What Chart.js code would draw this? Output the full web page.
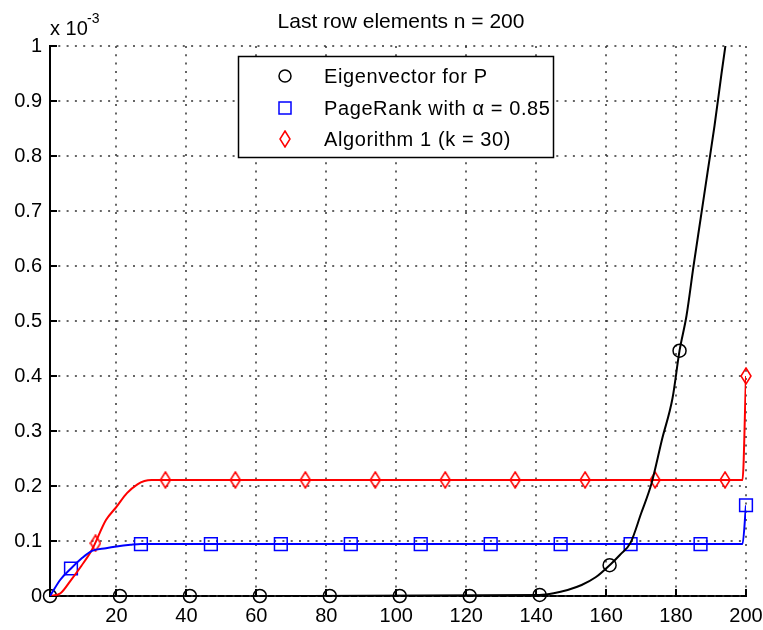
<!DOCTYPE html>
<html>
<head>
<meta charset="utf-8">
<script src="https://cdn.jsdelivr.net/npm/chart.js@4.4.0/dist/chart.umd.min.js"></script>
<style>
  html, body { margin: 0; padding: 0; background: #fff; }
</style>
</head>
<body>
<canvas id="chart" width="763" height="630"></canvas>
<script>
// axis ticks
const xTicks = [20, 40, 60, 80, 100, 120, 140, 160, 180, 200];
const yTicks = [0, 0.1, 0.2, 0.3, 0.4, 0.5, 0.6, 0.7, 0.8, 0.9, 1];
const yLabels = ['0', '0.1', '0.2', '0.3', '0.4', '0.5', '0.6', '0.7', '0.8', '0.9', '1'];

// Eigenvector for P (black)
const eigLineX = [67, 141, 145, 149, 153, 157, 161, 164, 167, 170, 173, 176, 179, 181, 183, 185, 187, 189, 191, 193, 195, 197];
const eigLineY = [0, 0.002, 0.005, 0.011, 0.02, 0.034, 0.056, 0.075, 0.097, 0.15, 0.205, 0.285, 0.36, 0.446, 0.51, 0.6, 0.685, 0.77, 0.855, 0.95, 1.04, 1.13];
const eigMarkX = [1, 21, 41, 61, 81, 101, 121, 141, 161, 181];
const eigMarkY = [0, 0, 0, 0, 0, 0, 0, 0.002, 0.056, 0.446];

// PageRank with alpha = 0.85 (blue)
const prLineX = [1, 4, 7, 10, 13, 17, 20, 24, 27, 199, 200];
const prLineY = [0, 0.03, 0.05, 0.068, 0.082, 0.087, 0.09, 0.093, 0.0945, 0.0945, 0.165];
const prMarkX = [7, 27, 47, 67, 87, 107, 127, 147, 167, 187, 200];
const prMarkY = [0.05, 0.0945, 0.0945, 0.0945, 0.0945, 0.0945, 0.0945, 0.0945, 0.0945, 0.0945, 0.165];

// Algorithm 1 (k = 30) (red)
const algLineX = [1, 4, 7, 10, 13, 17, 20, 23, 26, 28, 30, 199, 200];
const algLineY = [0, 0.005, 0.029, 0.055, 0.084, 0.138, 0.162, 0.187, 0.203, 0.209, 0.211, 0.211, 0.4];
const algMarkX = [14, 34, 54, 74, 94, 114, 134, 154, 174, 194, 200];
const algMarkY = [0.096, 0.211, 0.211, 0.211, 0.211, 0.211, 0.211, 0.211, 0.211, 0.211, 0.4];

const legendLabels = ['Eigenvector for P', 'PageRank with \u03b1 = 0.85', 'Algorithm 1 (k = 30)'];
const titleText = 'Last row elements n = 200';

const FONT = "'Liberation Sans', Arial, sans-serif";
const toPts = (xs, ys) => xs.map((x, i) => ({ x: x, y: ys[i] }));

// tall thin diamond like matlab's 'd' marker
const makeDiamond = (w, h, color) => {
  const c = document.createElement('canvas');
  c.width = w; c.height = h;
  const g = c.getContext('2d');
  g.strokeStyle = color;
  g.lineWidth = 1.5;
  g.beginPath();
  g.moveTo(w / 2, 1);
  g.lineTo(w - 1, h / 2);
  g.lineTo(w / 2, h - 1);
  g.lineTo(1, h / 2);
  g.closePath();
  g.stroke();
  return c;
};
const diamond = makeDiamond(12, 18, '#ff0000');

const lineSet = (data, color, width) => ({
  data: data, showLine: true, borderColor: color, borderWidth: width,
  pointRadius: 0, fill: false, cubicInterpolationMode: 'monotone'
});
const markSet = (data, color, style, r) => ({
  data: data, showLine: false, borderColor: color, backgroundColor: 'rgba(0,0,0,0)',
  pointStyle: style, pointRadius: r, pointBorderWidth: 1.5, clip: false
});

// dotted grid + inward ticks
const gridPlugin = {
  id: 'matGrid',
  beforeDatasetsDraw(chart) {
    const { ctx, chartArea: a, scales: { x, y } } = chart;
    ctx.save();
    ctx.strokeStyle = '#333';
    ctx.lineWidth = 1.5;
    ctx.setLineDash([2, 6.3]);
    xTicks.forEach(v => {
      const px = Math.round(x.getPixelForValue(v));
      ctx.beginPath(); ctx.moveTo(px, a.top); ctx.lineTo(px, a.bottom); ctx.stroke();
    });
    yTicks.forEach(v => {
      const py = Math.round(y.getPixelForValue(v));
      ctx.beginPath(); ctx.moveTo(a.left, py); ctx.lineTo(a.right, py); ctx.stroke();
    });
    ctx.setLineDash([]);
    ctx.strokeStyle = '#000';
    ctx.lineWidth = 2;
    xTicks.forEach(v => {
      const px = Math.round(x.getPixelForValue(v));
      ctx.beginPath(); ctx.moveTo(px, a.bottom); ctx.lineTo(px, a.bottom - 7); ctx.stroke();
    });
    yTicks.forEach(v => {
      const py = Math.round(y.getPixelForValue(v));
      ctx.beginPath(); ctx.moveTo(a.left, py); ctx.lineTo(a.left + 7, py); ctx.stroke();
    });
    ctx.restore();
  }
};

// title, exponent, legend box
const textPlugin = {
  id: 'matText',
  afterDraw(chart) {
    const { ctx } = chart;
    ctx.save();
    ctx.fillStyle = '#000';
    ctx.textBaseline = 'alphabetic';
    ctx.font = '21px ' + FONT;
    ctx.textAlign = 'center';
    ctx.fillText(titleText, 401, 28);
    ctx.font = '20px ' + FONT;
    ctx.textAlign = 'left';
    ctx.fillText('x 10', 50, 35);
    ctx.font = '14px ' + FONT;
    ctx.fillText('-3', 87, 23);

    // legend
    ctx.fillStyle = '#fff';
    ctx.fillRect(238, 56, 315, 101);
    ctx.strokeStyle = '#000';
    ctx.lineWidth = 1.5;
    ctx.strokeRect(238.5, 56.5, 315, 101);
    const rows = [76, 108, 139];
    ctx.lineWidth = 1.5;
    ctx.strokeStyle = '#000';
    ctx.beginPath(); ctx.arc(285, rows[0], 6, 0, Math.PI * 2); ctx.stroke();
    ctx.strokeStyle = '#0000ff';
    ctx.strokeRect(279, rows[1] - 6, 12, 12);
    ctx.drawImage(diamond, 285 - 6, rows[2] - 9);
    ctx.fillStyle = '#000';
    ctx.font = '20px ' + FONT;
    ctx.letterSpacing = '0.6px';
    ctx.textBaseline = 'middle';
    legendLabels.forEach((t, i) => ctx.fillText(t, 324, rows[i] + 1));
    ctx.restore();
  }
};

new Chart(document.getElementById('chart'), {
  type: 'scatter',
  data: {
    datasets: [
      lineSet(toPts(eigLineX, eigLineY), '#000000', 2),
      lineSet(toPts(prLineX, prLineY), '#0000ff', 2),
      lineSet(toPts(algLineX, algLineY), '#ff0000', 2),
      markSet(toPts(eigMarkX, eigMarkY), '#000000', 'circle', 6.5),
      markSet(toPts(prMarkX, prMarkY), '#0000ff', 'rect', 9),
      markSet(toPts(algMarkX, algMarkY), '#ff0000', diamond, 9)
    ]
  },
  options: {
    responsive: false,
    animation: false,
    layout: { padding: { top: 46, right: 17, left: 0, bottom: 0 } },
    plugins: { legend: { display: false }, tooltip: { enabled: false } },
    scales: {
      x: {
        type: 'linear', min: 1, max: 200,
        afterBuildTicks: s => { s.ticks = xTicks.map(v => ({ value: v })); },
        afterFit: s => { s.height = 34; s.paddingLeft = 0; s.paddingRight = 0; },
        grid: { display: false, drawTicks: false },
        border: { display: true, color: '#000', width: 2 },
        ticks: { autoSkip: false, maxRotation: 0, padding: 8, color: '#000',
          font: { family: FONT, size: 20 }, callback: v => String(v) }
      },
      y: {
        type: 'linear', min: 0, max: 1,
        afterBuildTicks: s => { s.ticks = yTicks.map(v => ({ value: v })); },
        afterFit: s => { s.width = 50; s.paddingTop = 0; s.paddingBottom = 0; },
        grid: { display: false, drawTicks: false },
        border: { display: true, color: '#000', width: 2 },
        ticks: { autoSkip: false, padding: 8, color: '#000',
          font: { family: FONT, size: 20 }, callback: (v, i) => yLabels[i] }
      }
    }
  },
  plugins: [gridPlugin, textPlugin]
});
</script>
</body>
</html>
